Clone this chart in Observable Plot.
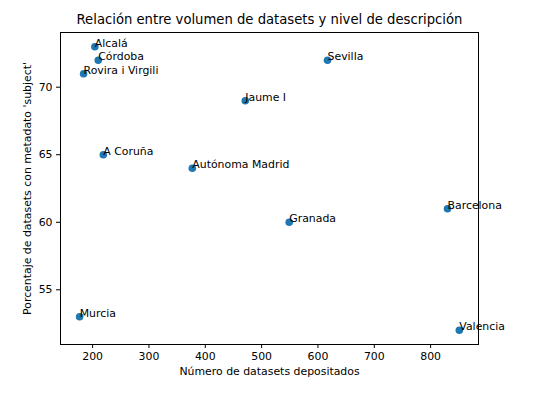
<!DOCTYPE html>
<html>
<head>
<meta charset="utf-8">
<script src="https://cdn.jsdelivr.net/npm/d3@7"></script>
<script src="https://cdn.jsdelivr.net/npm/@observablehq/plot@0.6"></script>
<style>
  body { margin: 0; background: white; }
</style>
</head>
<body>
<div id="chart1"></div>
<script>
// valores
let universidades = ["Alcalá", "Córdoba", "Rovira i Virgili", "A Coruña", "Autónoma Madrid", "Jaume I", "Sevilla", "Barcelona", "Granada", "Murcia", "Valencia"]
let datasets = [204, 210, 184, 219, 377, 471, 617, 830, 549, 177, 851]
let porcentaje = [73, 72, 71, 65, 64, 69, 72, 61, 60, 53, 52]
let xTicks = [200, 300, 400, 500, 600, 700, 800]
let yTicks = [55, 60, 65, 70]

let data = universidades.map((u, i) => ({ nombre: u, x: datasets[i], y: porcentaje[i] }))

let chart1 = Plot.plot({
  width: 537,
  height: 404,
  marginLeft: 60,
  marginRight: 59,
  marginTop: 32,
  marginBottom: 60,
  style: {
    fontFamily: "DejaVu Sans",
    fontSize: "10.9px",
    color: "black",
    background: "white"
  },
  x: { domain: [143, 885], label: null },
  y: { domain: [50.95, 74.05], label: null },
  marks: [
    Plot.frame({ stroke: "black", strokeWidth: 1 }),
    Plot.axisX({ ticks: xTicks, tickSize: 4, tickPadding: 4, label: null, fontSize: 10.9 }),
    Plot.axisY({ ticks: yTicks, tickSize: 4, tickPadding: 4, label: null, fontSize: 10.9 }),
    Plot.dot(data, { x: "x", y: "y", r: 3.8, fill: "#1f77b4", stroke: "none" }),
    Plot.text(data, { x: "x", y: "y", text: "nombre", textAnchor: "start", lineAnchor: "bottom", fontSize: 10.9, fill: "black" }),
    Plot.text(["Relación entre volumen de datasets y nivel de descripción"], { frameAnchor: "top", lineAnchor: "bottom", dy: -9, fontSize: 13.2, fill: "black" }),
    Plot.text(["Número de datasets depositados"], { frameAnchor: "bottom", lineAnchor: "top", dy: 23, fontSize: 10.9, fill: "black" }),
    Plot.text(["Porcentaje de datasets con metadato 'subject'"], { frameAnchor: "left", rotate: -90, textAnchor: "middle", lineAnchor: "middle", dx: -33, fontSize: 10.9, fill: "black" })
  ]
});

d3.select("#chart1").append(() => chart1);
</script>
</body>
</html>
